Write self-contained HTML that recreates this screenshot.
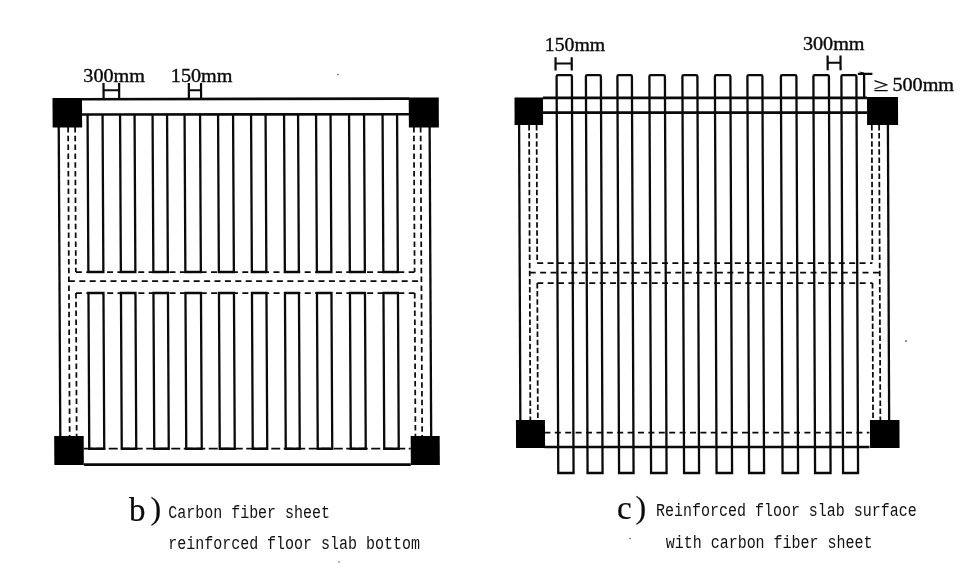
<!DOCTYPE html>
<html><head><meta charset="utf-8"><title>Carbon fiber sheet reinforced floor slab</title>
<style>
html,body{margin:0;padding:0;background:#fff;}
body{width:976px;height:585px;overflow:hidden;}
svg{display:block;}
.ser{font-family:"Liberation Serif",serif;fill:#0a0a0a;stroke:#0a0a0a;stroke-width:0.35px;}
.mono{font-family:"Liberation Mono",monospace;font-size:15px;fill:#111;}
</style></head><body>
<svg style="filter:grayscale(1)" width="976" height="585" viewBox="0 0 976 585">
<rect width="976" height="585" fill="#fff"/>
<g stroke="#0a0a0a" fill="none" stroke-linecap="butt" transform="matrix(1 0 0.005 1 -0.5 0)">
<line x1="82.00" y1="99.25" x2="409.00" y2="98.60" stroke-width="2.6"/>
<line x1="82.00" y1="114.50" x2="409.00" y2="114.20" stroke-width="2.6"/>
<line x1="82.00" y1="448.60" x2="409.00" y2="448.60" stroke-width="1.75" stroke-dasharray="9 3.5"/>
<line x1="82.00" y1="464.60" x2="409.00" y2="464.60" stroke-width="2.6"/>
<line x1="58.60" y1="127.00" x2="58.60" y2="436.00" stroke-width="2.3"/>
<line x1="68.00" y1="127.00" x2="68.00" y2="436.00" stroke-width="1.75" stroke-dasharray="5.5 3.3"/>
<line x1="75.00" y1="127.00" x2="75.00" y2="272.00" stroke-width="1.75" stroke-dasharray="5.5 3.3"/>
<line x1="75.00" y1="293.00" x2="75.00" y2="436.00" stroke-width="1.75" stroke-dasharray="5.5 3.3"/>
<line x1="413.75" y1="127.00" x2="413.75" y2="272.00" stroke-width="1.75" stroke-dasharray="5.5 3.3"/>
<line x1="413.75" y1="293.00" x2="413.75" y2="436.00" stroke-width="1.75" stroke-dasharray="5.5 3.3"/>
<line x1="420.50" y1="127.00" x2="420.50" y2="436.00" stroke-width="1.75" stroke-dasharray="5.5 3.3"/>
<line x1="429.50" y1="127.00" x2="429.50" y2="436.00" stroke-width="2.3"/>
<line x1="75.00" y1="272.00" x2="413.75" y2="272.00" stroke-width="1.75" stroke-dasharray="6 4.4"/>
<line x1="68.00" y1="281.00" x2="420.50" y2="281.00" stroke-width="1.75" stroke-dasharray="6 4.4"/>
<line x1="75.00" y1="293.00" x2="413.75" y2="293.00" stroke-width="1.75" stroke-dasharray="6 4.4"/>
<path d="M87.5 114.5 V272 H102.5 V114.5" stroke-width="2.3" fill="none"/>
<path d="M87.5 448.75 V293 H102.5 V448.75 Z" stroke-width="2.3" fill="none"/>
<path d="M120 114.5 V272 H134.5 V114.5" stroke-width="2.3" fill="none"/>
<path d="M120 448.75 V293 H134.5 V448.75 Z" stroke-width="2.3" fill="none"/>
<path d="M152.5 114.5 V272 H167 V114.5" stroke-width="2.3" fill="none"/>
<path d="M152.5 448.75 V293 H167 V448.75 Z" stroke-width="2.3" fill="none"/>
<path d="M184.5 114.5 V272 H200 V114.5" stroke-width="2.3" fill="none"/>
<path d="M184.5 448.75 V293 H200 V448.75 Z" stroke-width="2.3" fill="none"/>
<path d="M218 114.5 V272 H233 V114.5" stroke-width="2.3" fill="none"/>
<path d="M218 448.75 V293 H233 V448.75 Z" stroke-width="2.3" fill="none"/>
<path d="M251 114.5 V272 H265.5 V114.5" stroke-width="2.3" fill="none"/>
<path d="M251 448.75 V293 H265.5 V448.75 Z" stroke-width="2.3" fill="none"/>
<path d="M284 114.5 V272 H298 V114.5" stroke-width="2.3" fill="none"/>
<path d="M284 448.75 V293 H298 V448.75 Z" stroke-width="2.3" fill="none"/>
<path d="M316 114.5 V272 H330.5 V114.5" stroke-width="2.3" fill="none"/>
<path d="M316 448.75 V293 H330.5 V448.75 Z" stroke-width="2.3" fill="none"/>
<path d="M349 114.5 V272 H364 V114.5" stroke-width="2.3" fill="none"/>
<path d="M349 448.75 V293 H364 V448.75 Z" stroke-width="2.3" fill="none"/>
<path d="M382.5 114.5 V272 H397 V114.5" stroke-width="2.3" fill="none"/>
<path d="M382.5 448.75 V293 H397 V448.75 Z" stroke-width="2.3" fill="none"/>
<rect x="52.50" y="98.00" width="29.50" height="29.50" fill="#000" stroke="none"/>
<rect x="408.75" y="97.50" width="30.00" height="30.00" fill="#000" stroke="none"/>
<rect x="52.50" y="436.00" width="29.50" height="29.00" fill="#000" stroke="none"/>
<rect x="409.00" y="436.00" width="29.00" height="29.00" fill="#000" stroke="none"/>
<line x1="103.60" y1="83.00" x2="103.60" y2="98.50" stroke-width="2.2"/>
<line x1="119.20" y1="83.00" x2="119.20" y2="98.50" stroke-width="2.2"/>
<line x1="103.60" y1="90.20" x2="119.20" y2="90.20" stroke-width="2"/>
<line x1="188.90" y1="83.00" x2="188.90" y2="98.50" stroke-width="2.2"/>
<line x1="201.10" y1="83.00" x2="201.10" y2="98.50" stroke-width="2.2"/>
<line x1="188.90" y1="90.20" x2="201.10" y2="90.20" stroke-width="2"/>
</g><g stroke="#0a0a0a" fill="none" transform="matrix(1 0 0.0042 1 -0.42 0)">
<line x1="543.00" y1="97.90" x2="867.00" y2="97.90" stroke-width="2.7"/>
<line x1="543.00" y1="112.60" x2="867.00" y2="112.60" stroke-width="2.7"/>
<line x1="543.00" y1="432.50" x2="868.00" y2="432.50" stroke-width="1.75" stroke-dasharray="6 4.4"/>
<line x1="543.00" y1="447.00" x2="868.00" y2="447.00" stroke-width="2.6"/>
<line x1="519.00" y1="125.00" x2="519.00" y2="420.00" stroke-width="2.3"/>
<line x1="529.00" y1="125.00" x2="529.00" y2="420.00" stroke-width="1.75" stroke-dasharray="5.5 2.6"/>
<line x1="536.50" y1="125.00" x2="536.50" y2="263.00" stroke-width="1.75" stroke-dasharray="5.5 2.6"/>
<line x1="536.50" y1="283.00" x2="536.50" y2="420.00" stroke-width="1.75" stroke-dasharray="5.5 2.6"/>
<line x1="871.70" y1="125.00" x2="871.70" y2="263.00" stroke-width="1.75" stroke-dasharray="5.5 2.6"/>
<line x1="871.70" y1="283.00" x2="871.70" y2="420.00" stroke-width="1.75" stroke-dasharray="5.5 2.6"/>
<line x1="879.00" y1="125.00" x2="879.00" y2="420.00" stroke-width="1.75" stroke-dasharray="5.5 2.6"/>
<line x1="887.80" y1="125.00" x2="887.80" y2="420.00" stroke-width="2.3"/>
<line x1="536.50" y1="263.00" x2="871.70" y2="263.00" stroke-width="1.75" stroke-dasharray="6 4.4"/>
<line x1="529.00" y1="272.50" x2="879.00" y2="272.50" stroke-width="1.75" stroke-dasharray="6 4.4"/>
<line x1="536.50" y1="283.00" x2="871.70" y2="283.00" stroke-width="1.75" stroke-dasharray="6 4.4"/>
<path d="M556.7 76.5 Q556.7 75.2 558.0 75.2 H570.7 Q572 75.2 572 76.5 V473 H556.7 Z" stroke-width="2.3" fill="none"/>
<path d="M586 76.5 Q586 75.2 587.3 75.2 H599.7 Q601 75.2 601 76.5 V473 H586 Z" stroke-width="2.3" fill="none"/>
<path d="M617.5 76.5 Q617.5 75.2 618.8 75.2 H630.7 Q632 75.2 632 76.5 V473 H617.5 Z" stroke-width="2.3" fill="none"/>
<path d="M649.5 76.5 Q649.5 75.2 650.8 75.2 H663.7 Q665 75.2 665 76.5 V473 H649.5 Z" stroke-width="2.3" fill="none"/>
<path d="M682.5 76.5 Q682.5 75.2 683.8 75.2 H696.2 Q697.5 75.2 697.5 76.5 V473 H682.5 Z" stroke-width="2.3" fill="none"/>
<path d="M715 76.5 Q715 75.2 716.3 75.2 H729.2 Q730.5 75.2 730.5 76.5 V473 H715 Z" stroke-width="2.3" fill="none"/>
<path d="M747.5 76.5 Q747.5 75.2 748.8 75.2 H761.2 Q762.5 75.2 762.5 76.5 V473 H747.5 Z" stroke-width="2.3" fill="none"/>
<path d="M781 76.5 Q781 75.2 782.3 75.2 H795.2 Q796.5 75.2 796.5 76.5 V473 H781 Z" stroke-width="2.3" fill="none"/>
<path d="M813.5 76.5 Q813.5 75.2 814.8 75.2 H827.7 Q829 75.2 829 76.5 V473 H813.5 Z" stroke-width="2.3" fill="none"/>
<path d="M841.5 76.5 Q841.5 75.2 842.8 75.2 H855.2 Q856.5 75.2 856.5 76.5 V473 H841.5 Z" stroke-width="2.3" fill="none"/>
<rect x="514.50" y="97.50" width="28.50" height="27.50" fill="#000" stroke="none"/>
<rect x="867.00" y="97.00" width="31.00" height="28.00" fill="#000" stroke="none"/>
<rect x="514.60" y="420.00" width="29.00" height="28.00" fill="#000" stroke="none"/>
<rect x="868.60" y="420.00" width="29.50" height="28.00" fill="#000" stroke="none"/>
<line x1="555.70" y1="57.30" x2="555.70" y2="70.60" stroke-width="2.2"/>
<line x1="571.90" y1="57.30" x2="571.90" y2="70.60" stroke-width="2.2"/>
<line x1="555.70" y1="63.40" x2="571.90" y2="63.40" stroke-width="2"/>
<line x1="827.80" y1="55.40" x2="827.80" y2="70.20" stroke-width="2.2"/>
<line x1="840.70" y1="55.40" x2="840.70" y2="70.20" stroke-width="2.2"/>
<line x1="827.80" y1="62.80" x2="840.70" y2="62.80" stroke-width="2"/>
<line x1="864.20" y1="73.50" x2="864.20" y2="97.00" stroke-width="2.3"/>
<line x1="858.00" y1="73.80" x2="872.50" y2="73.80" stroke-width="2.3"/>
<path d="M859 71.5 L864 72.6 L864 75 Z" fill="#000" stroke="none"/>
</g>
<g transform="translate(83.3 81.8) scale(1.085 1)"><text class="ser" font-size="18.6">300mm</text></g>
<g transform="translate(170.8 81.8) scale(1.085 1)"><text class="ser" font-size="18.6">150mm</text></g>
<g transform="translate(544.8 50.6) scale(1.05 1)"><text class="ser" font-size="18.8">150mm</text></g>
<g transform="translate(802.9 49.9) scale(1.085 1)"><text class="ser" font-size="18.6">300mm</text></g>
<g transform="translate(873.6 91) scale(1.45 1)"><text class="ser" font-size="18.6">≥</text></g>
<g transform="translate(892.4 91) scale(1.085 1)"><text class="ser" font-size="18.6">500mm</text></g>
<g fill="#555" stroke="none"><circle cx="338" cy="74.6" r="0.8"/><circle cx="906" cy="341" r="0.9"/><circle cx="339" cy="562" r="0.8"/><circle cx="630" cy="538.5" r="0.8"/></g>
<text class="ser" style="stroke-width:0.2px" x="129" y="520.5" font-size="33">b</text>
<text class="ser" style="stroke-width:0.2px" x="150.5" y="518.5" font-size="32">)</text>
<text class="ser" style="stroke-width:0.2px" x="617" y="518.7" font-size="33">c</text>
<text class="ser" style="stroke-width:0.2px" x="635.5" y="517.5" font-size="32">)</text>
<g transform="translate(168.2 517.6) scale(1 1.23)"><text class="mono" x="0" y="0">Carbon fiber sheet</text></g>
<g transform="translate(168.2 549.3) scale(1 1.23)"><text class="mono" x="0" y="0">reinforced floor slab bottom</text></g>
<g transform="translate(656 516.4) scale(1 1.23)"><text class="mono" x="0" y="0">Reinforced floor slab surface</text></g>
<g transform="translate(665.7 548.1) scale(1 1.23)"><text class="mono" x="0" y="0">with carbon fiber sheet</text></g>
</svg>
</body></html>
